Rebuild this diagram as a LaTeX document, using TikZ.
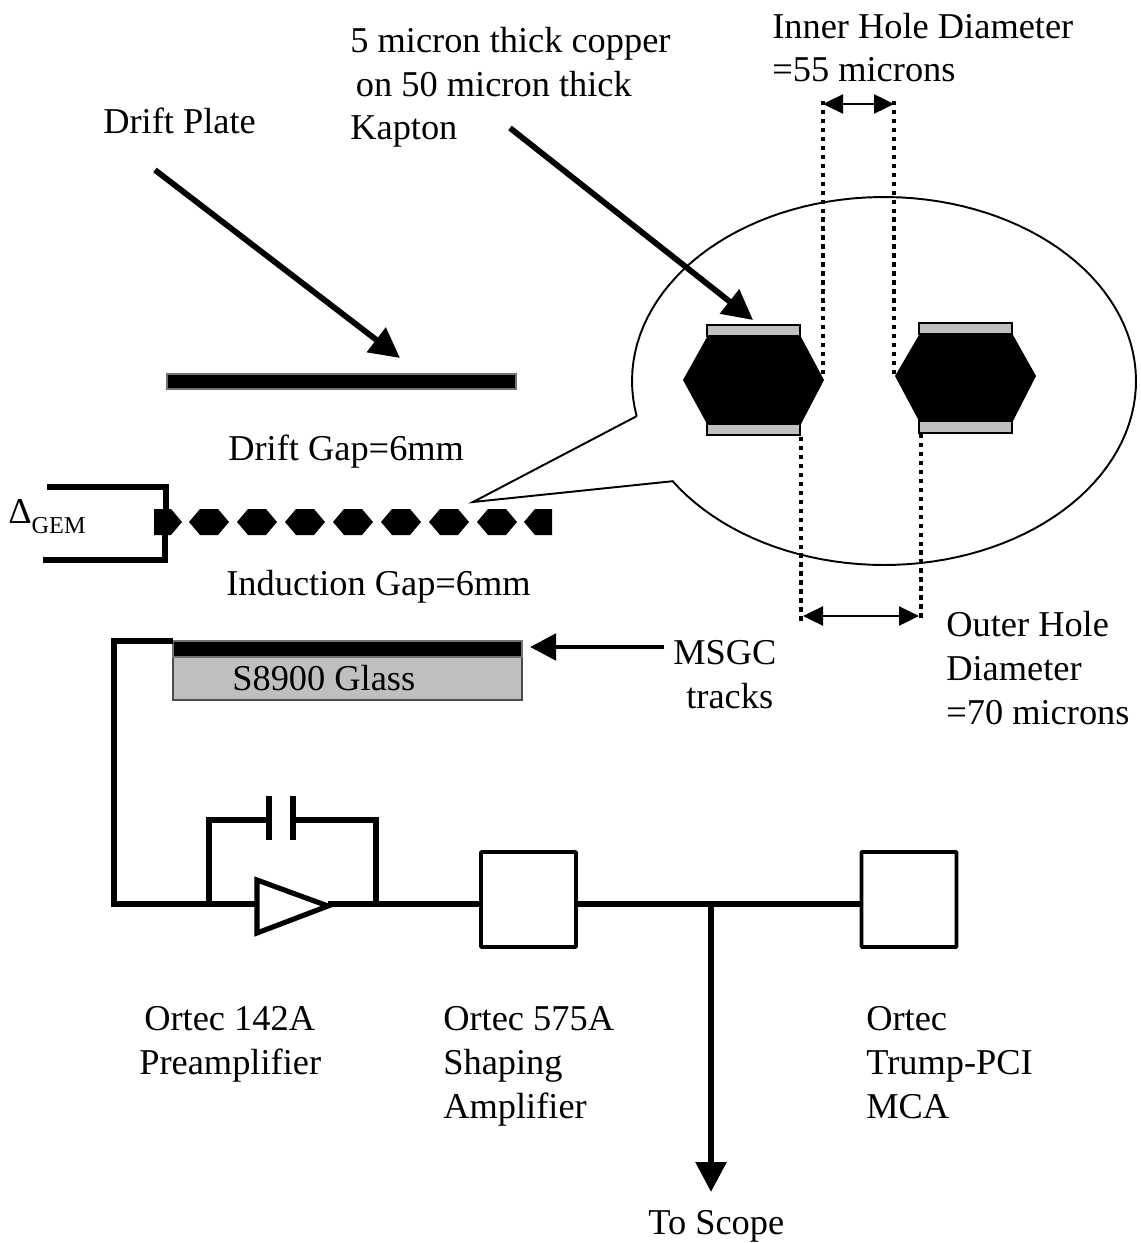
\documentclass[tikz,border=0pt]{standalone}
\usepackage{fontspec}
\setmainfont{Liberation Serif}
\usepackage{xcolor}
\definecolor{glassGrey}{HTML}{BFBFBF}
\usetikzlibrary{arrows.meta, positioning, calc, shapes.geometric}
\tikzset{
  %% boxes and solid parts
  ampBox/.style      = {draw=black, line width=2.2pt, rounded corners=0.5pt, fill=white,
                        minimum width=95*0.02cm, minimum height=95*0.02cm, inner sep=0pt},
  solidPart/.style   = {fill=black, draw=none},
  platePart/.style   = {fill=black, draw=black!55, line width=0.6pt},
  copperStrip/.style = {fill=glassGrey, draw=black, line width=1.1pt},
  glassPlate/.style  = {fill=glassGrey, draw=black!70, line width=0.8pt},
  %% lines
  wire/.style        = {draw=black, line width=2.9pt, line join=miter},
  bubbleLine/.style  = {draw=black, line width=1.1pt, fill=white, line join=miter},
  dotGuide/.style    = {draw=black, line width=2.8pt, dash pattern=on 2.5pt off 2.6pt},
  arrowHeavy/.style  = {-{Triangle[length=30*0.02cm, width=30*0.02cm]}, draw=black,
                        line width=3.3pt},
  arrowLeft/.style   = {-{Triangle[length=26*0.02cm, width=26*0.02cm]}, draw=black,
                        line width=2.8pt},
  arrowDim/.style    = {{Triangle[length=20*0.02cm, width=19*0.02cm]}-{Triangle[length=20*0.02cm, width=19*0.02cm]},
                        draw=black, line width=1.4pt},
  %% text
  legend/.style      = {anchor=base west, align=left, inner sep=0pt,
                        font=\fontsize{20.7}{24.9}\selectfont},
}
\newcommand{\hexSmall}[1]{\fill[solidPart] (#1-9,509) -- (#1+9,509)
    -- (#1+20,522) -- (#1+9,535) -- (#1-9,535) -- (#1-20,522) -- cycle;}
\begin{document}
\begin{tikzpicture}[x=0.02cm, y=-0.02cm]
\useasboundingbox (0,0) rectangle (1140,1243);

%% labels
\node[legend] (innerdia) at (772,82)  {Inner Hole Diameter\\=55 microns};
\node[legend] (copperlab) at (350,140) {5 micron thick copper\\\hspace*{8\pgflinewidth}on 50 micron thick\\Kapton};
\node[legend] (driftlab) at (103,134) {Drift Plate};
\node[legend] (driftgap) at (228,460) {Drift Gap=6mm};
\node[legend] (indgap)   at (226,595) {Induction Gap=6mm};
\node[legend] (deltagem) at (8,523)   {Δ\raisebox{-6.2pt}{\fontsize{13.8}{15}\selectfont GEM}};
\node[legend] (outerdia) at (946,724) {Outer Hole\\Diameter\\=70 microns};

%% drift plate
\draw[platePart] (167,374) rectangle (516,389);
\coordinate (driftfrom) at (155,170);
\coordinate (driftto)   at (400,358);
\draw[arrowHeavy] (driftfrom) -- (driftto);

%% magnified view of one hole
\coordinate (tailtip) at (473,502);
\draw[bubbleLine] (tailtip) -- (637,416)
   -- plot[domain=169:507, samples=120] ({884+252*cos(\x)},{381+184*sin(\x)}) -- cycle;

\fill[solidPart] (683,380) -- (707,337) -- (801,337) -- (824,380) -- (801,424) -- (707,424) -- cycle;
\fill[solidPart] (895,376) -- (919,335) -- (1013,335) -- (1036,376) -- (1013,421) -- (919,421) -- cycle;
\draw[copperStrip] (707,325) rectangle (800,336);
\draw[copperStrip] (707,424) rectangle (800,435);
\draw[copperStrip] (919,323) rectangle (1012,334);
\draw[copperStrip] (919,421) rectangle (1012,433);

\coordinate (innerL) at (823,101);
\coordinate (innerR) at (894,101);
\coordinate (outerL) at (801,621);
\coordinate (outerR) at (921,621);
\draw[dotGuide] (innerL) -- (823,376);
\draw[dotGuide] (innerR) -- (894,376);
\draw[dotGuide] (801,437) -- (outerL);
\draw[dotGuide] (921,434) -- (outerR);
\draw[arrowDim] (823,104) -- (894,104);
\draw[arrowDim] (803,616) -- (919,616);

\coordinate (copperfrom) at (510,128);
\coordinate (copperto)   at (753,320);
\draw[arrowHeavy] (copperfrom) -- (copperto);

%% GEM foil
\fill[solidPart] (154,509) -- (171,509) -- (182,522) -- (171,535) -- (154,535) -- cycle;
\foreach \cx in {209,257,305,353,401,449,497} {\hexSmall{\cx}}
\fill[solidPart] (552,509) -- (535,509) -- (524,522) -- (535,535) -- (552,535) -- cycle;
\draw[wire] (47,487) -- (166,487) -- (166,509);
\draw[wire] (165,535) -- (165,560) -- (43,560);

%% readout plate
\draw[glassPlate] (173,657) rectangle (522,700);
\draw[platePart] (173,641) rectangle (522,657);
\node[legend] (glasslab) at (232,690) {S8900 Glass};
\node[legend] (msgclab) at (673,664) {MSGC};
\node[legend] (trackslab) at (686,708) {tracks};
\coordinate (msgcfrom) at (664,647);
\coordinate (msgcto)   at (530,647);
\draw[arrowLeft] (msgcfrom) -- (msgcto);

%% electronics
\coordinate (inbranch)  at (209,904);
\coordinate (outbranch) at (376,904);
\coordinate (scopetap)  at (711,904);
\node[ampBox] (shaper) at (528.5,899.5) {};
\node[ampBox] (mca)    at (909,899.5)  {};
\draw[wire] (173,641) -- (114,641) -- (114,904) -- (inbranch);
\draw[wire] (inbranch) -- (257,904);
\draw[wire] (inbranch) -- (209,820) -- (269,820);
\draw[wire] (293,820) -- (376,820) -- (outbranch);
\draw[wire] (269,796) -- (269,840);
\draw[wire] (293,796) -- (293,840);
\draw[wire, fill=white] (257,880) -- (328,906) -- (257,933) -- cycle;
\draw[wire] (328,904) -- (outbranch) -- (shaper.west |- outbranch);
\draw[wire] (shaper.east |- scopetap) -- (mca.west |- scopetap);
\coordinate (scopeend) at (711,1192);
\draw[arrowHeavy] (scopetap) -- (scopeend);

\node[legend] (preamplab) at (144,1030)  {Ortec 142A};
\node[legend] (preamplab2) at (139,1074) {Preamplifier};
\node[legend] (shaperlab) at (443,1118)  {Ortec 575A\\Shaping\\Amplifier};
\node[legend] (mcalab)    at (866,1118)  {Ortec\\Trump-PCI\\MCA};
\node[legend] (scopelab)  at (648,1234)  {To Scope};

\end{tikzpicture}
\end{document}
